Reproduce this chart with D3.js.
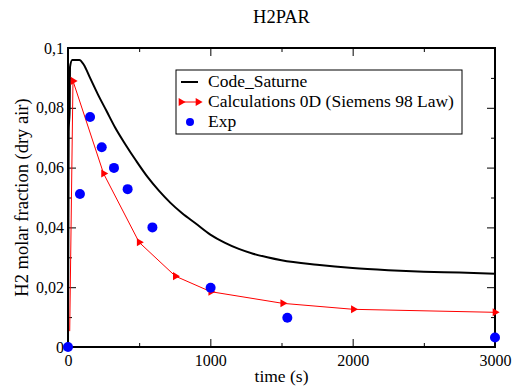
<!DOCTYPE html>
<html>
<head>
<meta charset="utf-8">
<script src="https://cdn.jsdelivr.net/npm/d3@7"></script>
<style>
  body { margin: 0; background: #fff; }
</style>
</head>
<body>
<div id="chart"></div>
<script>

var title = 'H2PAR';
var xLabel = 'time (s)';
var yLabel = 'H2 molar fraction (dry air)';

var xTicks = [0, 1000, 2000, 3000];
var xMinor = [500, 1500, 2500];
var yTicks = [0, 0.02, 0.04, 0.06, 0.08, 0.1];
var yMinor = [0.01, 0.03, 0.05, 0.07, 0.09];

var seriesNames = ['Code_Saturne', 'Calculations 0D (Siemens 98 Law)', 'Exp'];

// Code_Saturne curve
var satTime = [0, 5, 12, 14, 30, 80, 110, 155, 210, 270, 330, 400, 480, 560, 640, 720, 800, 900,
               1000, 1100, 1200, 1300, 1400, 1500, 1750, 2000, 2250, 2500, 2750, 3000];
var satVal = [0, 0.072, 0.08, 0.0936, 0.096, 0.096, 0.0945, 0.090, 0.0845, 0.079, 0.0735, 0.068,
              0.0622, 0.0568, 0.0522, 0.0482, 0.0448, 0.0412, 0.0376, 0.0349, 0.0328, 0.0312,
              0.0300, 0.0290, 0.0275, 0.0264, 0.0257, 0.0252, 0.0249, 0.0245];

// 0D calculation
var calcTime = [12, 35, 250, 500, 754, 1003, 1509, 2005, 3000];
var calcVal = [0.0053, 0.089, 0.058, 0.035, 0.0237, 0.0185, 0.0146, 0.0126, 0.0116];

// experiment
var expTime = [0, 84, 155, 237, 323, 419, 593, 1002, 1541, 3000];
var expVal = [0, 0.0512, 0.0769, 0.0668, 0.0599, 0.0528, 0.040, 0.0198, 0.0098, 0.0032];

var W = 514, H = 388;
var pL = 68, pR = 495, pT = 48, pB = 347;
var FONT = 'Liberation Serif, Tinos, DejaVu Serif, serif';

var svg = d3.select('#chart').append('svg').attr('width', W).attr('height', H);

var x = d3.scaleLinear().domain([0, 3000]).range([pL, pR]);
var y = d3.scaleLinear().domain([0, 0.1]).range([pB, pT]);

var loc = d3.formatLocale({decimal: ',', thousands: '', grouping: [3], currency: ['', '']});
var yFmt = loc.format('~g');

// axes (ticks inside)
function drawAxis(axis, tr) {
    var g = svg.append('g').attr('transform', tr).call(axis);
    g.attr('font-family', null).attr('font-size', null);
    g.select('.domain').remove();
    g.selectAll('line').attr('stroke', '#000').attr('stroke-width', 1);
    g.selectAll('text').attr('fill', '#000').style('font-family', FONT).style('font-size', '16px');
    return g;
}

drawAxis(d3.axisBottom(x).tickValues(xTicks).tickSize(-8).tickPadding(8).tickFormat(String), 'translate(0,' + pB + ')');
drawAxis(d3.axisBottom(x).tickValues(xMinor).tickSize(-4).tickFormat(''), 'translate(0,' + pB + ')');
drawAxis(d3.axisTop(x).tickValues(xTicks).tickSize(-8).tickFormat(''), 'translate(0,' + pT + ')');
drawAxis(d3.axisTop(x).tickValues(xMinor).tickSize(-4).tickFormat(''), 'translate(0,' + pT + ')');
drawAxis(d3.axisLeft(y).tickValues(yTicks).tickSize(-8).tickPadding(4).tickFormat(yFmt), 'translate(' + pL + ',0)');
drawAxis(d3.axisLeft(y).tickValues(yMinor).tickSize(-4).tickFormat(''), 'translate(' + pL + ',0)');
drawAxis(d3.axisRight(y).tickValues(yTicks).tickSize(-8).tickFormat(''), 'translate(' + pR + ',0)');
drawAxis(d3.axisRight(y).tickValues(yMinor).tickSize(-4).tickFormat(''), 'translate(' + pR + ',0)');

// frame
svg.append('rect')
    .attr('x', pL).attr('y', pT)
    .attr('width', pR - pL).attr('height', pB - pT)
    .attr('fill', 'none').attr('stroke', '#000').attr('stroke-width', 2);

// Code_Saturne
var satData = satTime.map(function(t, i) { return [t, satVal[i]]; });
svg.append('path')
    .datum(satData)
    .attr('fill', 'none').attr('stroke', '#000').attr('stroke-width', 2)
    .attr('d', d3.line().x(function(d) { return x(d[0]); }).y(function(d) { return y(d[1]); }).curve(d3.curveMonotoneX));

// calculations 0D
var calcData = calcTime.map(function(t, i) { return [t, calcVal[i]]; });
svg.append('path')
    .datum(calcData)
    .attr('fill', 'none').attr('stroke', '#ff0000').attr('stroke-width', 1)
    .attr('d', d3.line().x(function(d) { return x(d[0]); }).y(function(d) { return y(d[1]); }));

var tri = d3.symbol().type(d3.symbolTriangle).size(28);
svg.append('g').selectAll('path')
    .data(calcData.slice(1)).enter().append('path')
    .attr('d', tri)
    .attr('fill', '#ff0000')
    .attr('transform', function(d) { return 'translate(' + x(d[0]) + ',' + y(d[1]) + ') rotate(90)'; });

// experiment
var expData = expTime.map(function(t, i) { return [t, expVal[i]]; });
svg.append('g').selectAll('circle')
    .data(expData).enter().append('circle')
    .attr('cx', function(d) { return x(d[0]); })
    .attr('cy', function(d) { return y(d[1]); })
    .attr('r', 5)
    .attr('fill', '#0000ff');

// titles
function label(sel, size) {
    return sel.style('font-family', FONT).style('font-size', size + 'px').attr('fill', '#000');
}
label(svg.append('text'), 18.5).attr('x', (pL + pR) / 2).attr('y', 23)
    .attr('text-anchor', 'middle').text(title);
label(svg.append('text'), 17.5).attr('x', (pL + pR) / 2).attr('y', 382)
    .attr('text-anchor', 'middle').text(xLabel);
label(svg.append('text'), 18.5)
    .attr('transform', 'translate(28,' + ((pT + pB) / 2) + ') rotate(-90)')
    .attr('text-anchor', 'middle').text(yLabel);

// legend
var lg = svg.append('g');
lg.append('rect').attr('x', 176).attr('y', 70).attr('width', 286).attr('height', 64)
    .attr('fill', '#fff').attr('stroke', '#000').attr('stroke-width', 1);

var rowY = [82, 102, 122];
label(lg.selectAll('text.lab').data(seriesNames).enter().append('text'), 17.5)
    .attr('class', 'lab')
    .attr('x', 208).attr('y', function(d, i) { return rowY[i] + 5; })
    .text(function(d) { return d; });

lg.append('line').attr('x1', 181).attr('x2', 198).attr('y1', rowY[0]).attr('y2', rowY[0])
    .attr('stroke', '#000').attr('stroke-width', 2);
lg.append('line').attr('x1', 181).attr('x2', 198).attr('y1', rowY[1]).attr('y2', rowY[1])
    .attr('stroke', '#ff0000').attr('stroke-width', 1);
lg.selectAll('path.mk').data([181, 198]).enter().append('path')
    .attr('class', 'mk')
    .attr('d', tri).attr('fill', '#ff0000')
    .attr('transform', function(d) { return 'translate(' + d + ',' + rowY[1] + ') rotate(90)'; });
lg.append('circle').attr('cx', 190).attr('cy', rowY[2]).attr('r', 4).attr('fill', '#0000ff');

</script>
</body>
</html>
